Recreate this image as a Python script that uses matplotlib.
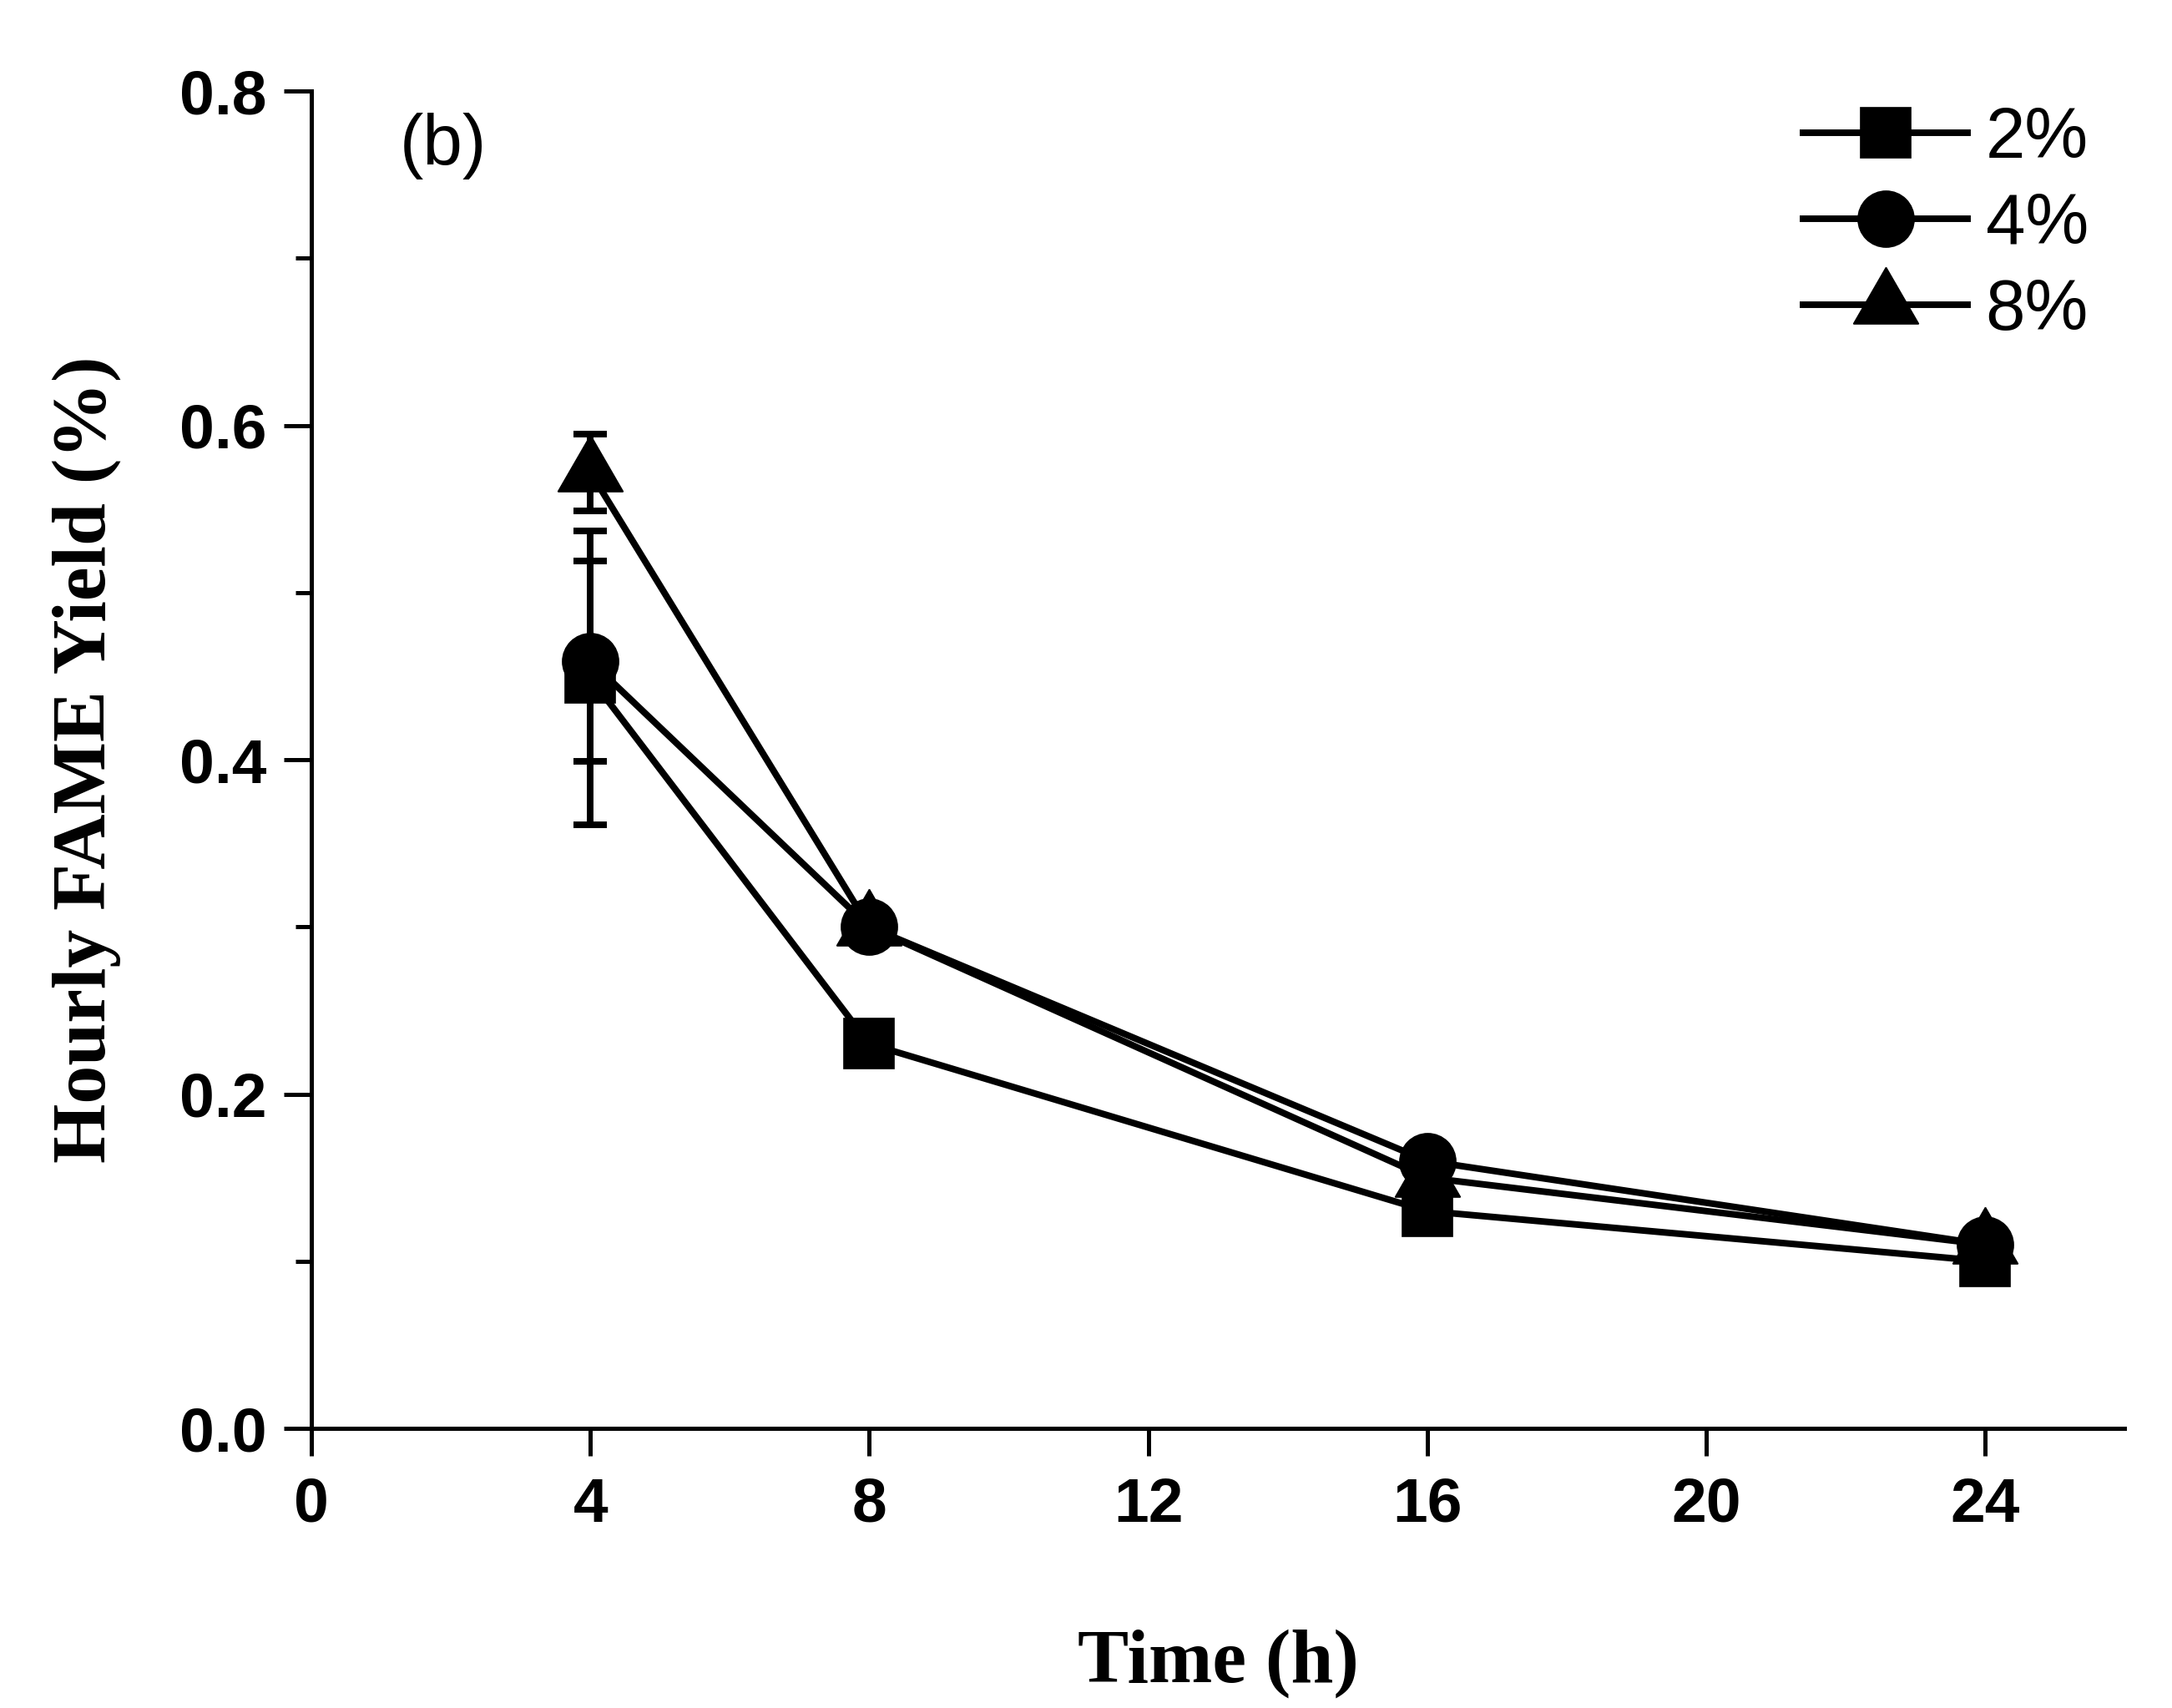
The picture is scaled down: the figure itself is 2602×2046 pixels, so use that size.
import matplotlib
matplotlib.use('Agg')
import matplotlib.pyplot as plt
from matplotlib.ticker import MultipleLocator

# hourly FAME yield
time_h = [4, 8, 16, 24]
labels = ['2%', '4%', '8%']
yield_2 = [0.449, 0.23, 0.13, 0.10]
yield_4 = [0.459, 0.30, 0.16, 0.11]
yield_8 = [0.572, 0.30, 0.15, 0.11]
err_2 = [0.088, 0, 0, 0]
err_4 = [0.060, 0, 0, 0]
err_8 = [0.023, 0, 0, 0]

sans = 'Liberation Sans'
serif = 'Liberation Serif'

fig = plt.figure(figsize=(2602 / 300, 2046 / 300), dpi=300)
ax = fig.add_axes([0.1434, 0.1637, 0.9781 - 0.1434, 0.9467 - 0.1637])

styles = [
    (yield_2, err_2, 's', 14.2, 3),
    (yield_4, err_4, 'o', 16.1, 4),
    (yield_8, err_8, (3, 0, 0), 21.6, 2),
]
handles = []
for (vals, errs, mk, ms, z), lab in zip(styles, labels):
    c = ax.errorbar(time_h, vals, yerr=errs, color='black', lw=1.9,
                    marker=mk, ms=ms, mfc='black', mec='black',
                    capsize=4.7, capthick=1.9, elinewidth=1.9,
                    label=lab, zorder=z)
    c[0].set_markeredgewidth(0.4)
    handles.append(c[0])

ax.set_xlim(0, 26)
ax.set_ylim(0, 0.8)
ax.set_xticks([0, 4, 8, 12, 16, 20, 24])
ax.yaxis.set_major_locator(MultipleLocator(0.2))
ax.yaxis.set_minor_locator(MultipleLocator(0.1))
ax.yaxis.set_major_formatter(matplotlib.ticker.FormatStrFormatter('%.1f'))

for side in ['top', 'right']:
    ax.spines[side].set_visible(False)
for side in ['left', 'bottom']:
    ax.spines[side].set_linewidth(1.2)

ax.tick_params(which='major', direction='out', length=7.9, width=1.2)
ax.tick_params(which='minor', direction='out', length=4.6, width=1.2)
ax.tick_params(axis='y', pad=5)
ax.tick_params(axis='x', pad=6)
for t in ax.get_xticklabels() + ax.get_yticklabels():
    t.set_fontfamily(sans)
    t.set_fontweight('bold')
    t.set_fontsize(18)

ax.set_xlabel('Time (h)', fontfamily=serif, fontweight='bold', fontsize=22)
ax.set_ylabel('Hourly FAME Yield (%)', fontfamily=serif, fontweight='bold', fontsize=22)
ax.xaxis.set_label_coords(0.5, -0.150)
ax.yaxis.set_label_coords(-0.105, 0.5)

ax.text(1.26, 0.756, '(b)', fontfamily=sans, fontsize=20.5, va='baseline', ha='left')

ax.legend(handles=handles, labels=labels, loc='upper left',
          bbox_to_anchor=(0.8227, 0.989), borderaxespad=0, borderpad=0,
          frameon=False, numpoints=1, handlelength=2.31, handletextpad=0.25,
          labelspacing=0.27, prop={'family': sans, 'size': 20.5})

fig.savefig('out.png', dpi=300)
